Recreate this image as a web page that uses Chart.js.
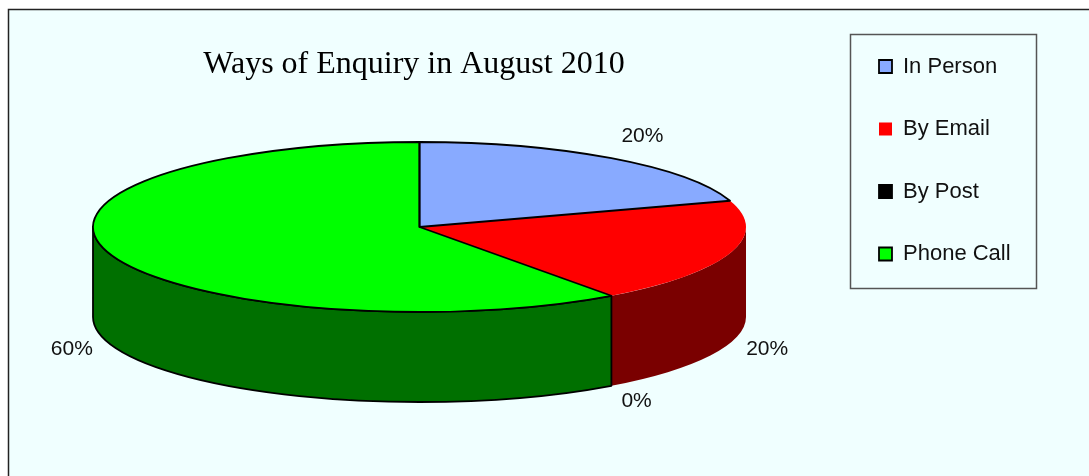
<!DOCTYPE html>
<html><head><meta charset="utf-8">
<script src="https://cdn.jsdelivr.net/npm/chart.js@4/dist/chart.umd.min.js"></script>
<style>html,body{margin:0;padding:0;background:#fff;} canvas{display:block;}</style>
</head><body>
<canvas id="c" width="1089" height="476"></canvas>
<script>
// ---- data ----
const categories = ['In Person', 'By Email', 'By Post', 'Phone Call'];
const values = [20, 20, 0, 60];
const titleText = 'Ways of Enquiry in August 2010';

// ---- styles ----
const topColors = ['#88AAFF', '#FF0000', '#000000', '#00FF00'];
const sideColors = ['#4455AA', '#7A0000', '#000000', '#007000'];
const outlineWidths = [1.8, 0, 1.8, 1.8];

// ---- layout geometry of the 3D pie ----
const GEO = { cx: 419.5, cy: 227, rx: 326.5, ry: 85, depth: 90 };

function ellPt(a, dy) {
  return [GEO.cx + GEO.rx * Math.cos(a), GEO.cy + dy + GEO.ry * Math.sin(a)];
}

const pie3d = {
  id: 'pie3d',
  beforeDraw(chart) {
    const ctx = chart.ctx;
    ctx.save();
    ctx.fillStyle = '#ffffff';
    ctx.fillRect(0, 0, chart.width, chart.height);
    ctx.fillStyle = '#F0FFFF';
    ctx.fillRect(8, 9, chart.width, chart.height);
    ctx.strokeStyle = '#222';
    ctx.lineWidth = 1.5;
    ctx.strokeRect(8.5, 9.5, chart.width + 20, chart.height + 20);
    ctx.strokeStyle = '#555';
    ctx.lineWidth = 1.5;
    ctx.strokeRect(850.5, 34.5, 186, 254);
    ctx.restore();
  },
  afterLayout(chart) {
    const lg = chart.legend;
    const pad = lg.options.labels.padding;
    const w = lg.width, h = lg.height;
    lg.left = 879 - pad; lg.right = lg.left + w;
    lg.top = 55.5 - pad; lg.bottom = lg.top + h;
    const tb = chart.titleBlock;
    const lh = 32 * 1.2;
    tb.left = 0; tb.right = 828; tb.width = 828;
    tb.top = 65 - lh / 2; tb.bottom = tb.top + lh; tb.height = lh;
  },
  beforeDatasetsDraw(chart) {
    const ctx = chart.ctx;
    const meta = chart.getDatasetMeta(0);
    const ds = chart.data.datasets[0];
    const total = ds.data.reduce((a, b) => a + b, 0);
    const { cx, cy, rx, ry, depth } = GEO;
    const arcs = meta.data.map(el => el.getProps(['startAngle', 'endAngle'], true));
    ctx.save();
    ctx.lineJoin = 'round';
    // side walls (front half only)
    const sides = [];
    arcs.forEach((a, i) => {
      if (a.endAngle <= a.startAngle) return;
      [0, 2 * Math.PI].forEach(k => {
        const s = Math.max(a.startAngle, k), e = Math.min(a.endAngle, k + Math.PI);
        if (e > s) sides.push({ i, s, e });
      });
    });
    const sidePath = (p) => {
      ctx.beginPath();
      ctx.ellipse(cx, cy, rx, ry, 0, p.s, p.e, false);
      const b = ellPt(p.e, depth);
      ctx.lineTo(b[0], b[1]);
      ctx.ellipse(cx, cy + depth, rx, ry, 0, p.e, p.s, true);
      ctx.closePath();
    };
    sides.forEach(p => { sidePath(p); ctx.fillStyle = sideColors[p.i]; ctx.fill(); });
    sides.forEach(p => {
      if (!outlineWidths[p.i]) return;
      sidePath(p); ctx.strokeStyle = '#000'; ctx.lineWidth = outlineWidths[p.i]; ctx.stroke();
    });
    // tops
    const topPath = (a) => {
      ctx.beginPath();
      ctx.moveTo(cx, cy);
      ctx.ellipse(cx, cy, rx, ry, 0, a.startAngle, a.endAngle, false);
      ctx.closePath();
    };
    arcs.forEach((a, i) => {
      if (a.endAngle <= a.startAngle) return;
      topPath(a); ctx.fillStyle = ds.backgroundColor[i]; ctx.fill();
    });
    arcs.forEach((a, i) => {
      if (a.endAngle <= a.startAngle || !outlineWidths[i]) return;
      topPath(a); ctx.strokeStyle = '#000'; ctx.lineWidth = outlineWidths[i]; ctx.stroke();
    });
    // percentage labels
    ctx.font = '21px "Liberation Sans", Arial, sans-serif';
    ctx.fillStyle = '#111';
    ctx.textBaseline = 'middle';
    arcs.forEach((a, i) => {
      const mid = (a.startAngle + a.endAngle) / 2;
      const c = Math.cos(mid), s = Math.sin(mid);
      const e = ellPt(mid, s >= 0 ? depth : 0);
      const x = e[0] + 17 * c;
      const y = e[1] + (s < 0 ? 27 : 19) * s;
      ctx.textAlign = c >= 0 ? 'left' : 'right';
      const pct = Math.round(ds.data[i] / total * 100) + '%';
      ctx.fillText(pct, x, y);
    });
    ctx.restore();
    return false;
  }
};

new Chart(document.getElementById('c'), {
  type: 'pie',
  data: {
    labels: categories,
    datasets: [{
      data: values,
      backgroundColor: topColors,
      borderColor: '#000000',
      borderWidth: outlineWidths
    }]
  },
  options: {
    responsive: false,
    devicePixelRatio: 1,
    animation: false,
    events: [],
    layout: { padding: 0 },
    plugins: {
      title: {
        display: true,
        text: titleText,
        color: '#000',
        padding: 0,
        font: { family: '"Liberation Serif", "Times New Roman", serif', size: 32, weight: 'normal', lineHeight: 1.2 }
      },
      legend: {
        display: true,
        position: 'right',
        align: 'start',
        labels: {
          color: '#111',
          boxWidth: 13,
          boxHeight: 13,
          padding: 40.5,
          font: { family: '"Liberation Sans", Arial, sans-serif', size: 22 }
        }
      },
      tooltip: { enabled: false }
    }
  },
  plugins: [pie3d]
});
</script>
</body></html>
